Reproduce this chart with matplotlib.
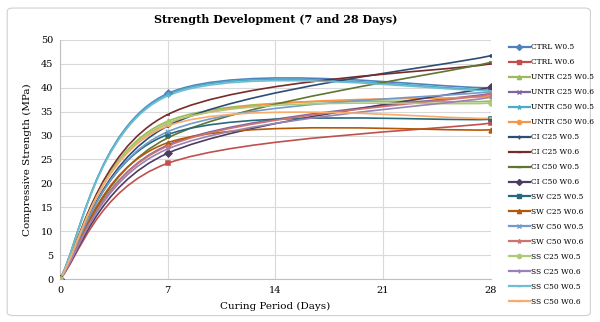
import matplotlib
matplotlib.use("Agg")
from matplotlib import pyplot as plt
from matplotlib.path import Path
from matplotlib.patches import PathPatch, FancyBboxPatch
from matplotlib.lines import Line2D
import numpy as np

days = [0, 7, 28]
names = ["CTRL W0.5", "CTRL W0.6", "UNTR C25 W0.5", "UNTR C25 W0.6",
         "UNTR C50 W0.5", "UNTR C50 W0.6", "CI C25 W0.5", "CI C25 W0.6",
         "CI C50 W0.5", "CI C50 W0.6", "SW C25 W0.5", "SW C25 W0.6",
         "SW C50 W0.5", "SW C50 W0.6", "SS C25 W0.5", "SS C25 W0.6",
         "SS C50 W0.5", "SS C50 W0.6"]
day7 = [38.8, 24.2, 33.0, 28.0, 38.6, 32.5, 32.0, 34.4, 29.5,
        26.3, 30.2, 28.5, 30.8, 27.8, 32.6, 27.2, 38.3, 32.0]
day28 = [40.0, 32.6, 37.2, 38.8, 39.6, 38.2, 46.7, 45.0, 45.3,
         40.1, 33.4, 31.2, 39.2, 38.6, 36.8, 38.0, 39.4, 33.6]

colors = ["#4F81BD", "#C0504D", "#9BBB59", "#8064A2", "#4BACC6", "#F79646",
          "#2C4D75", "#772C2A", "#5F7530", "#4D3B62", "#276A7C", "#B65708",
          "#729ACA", "#CD7371", "#AFC97A", "#9983B5", "#6FBDD1", "#F9AB6B"]
markers = ["D", "s", "^", "x", "*", "o", "+", "_", "_",
           "D", "s", "^", "x", "*", "o", "+", "_", "_"]

plt.rcParams['font.family'] = ['DejaVu Serif']

fig = plt.figure(figsize=(6, 3.22), dpi=100)
fig.patches.append(FancyBboxPatch((0.012, 0.02), 0.972, 0.955, boxstyle="round,pad=0,rounding_size=0.01",
                                  transform=fig.transFigure, fill=False, ec="#d0d0d0", lw=0.8))
ax = fig.add_axes([0.1, 0.1335, 0.718, 0.7425])


def smooth_path(xs, ys):
    # excel style bezier smoothing through the points
    pts = np.column_stack([xs, ys]).astype(float)
    verts = [pts[0]]
    codes = [Path.MOVETO]
    n = len(pts)
    for i in range(n - 1):
        p0 = pts[i - 1] if i > 0 else pts[i]
        p1 = pts[i]
        p2 = pts[i + 1]
        p3 = pts[i + 2] if i + 2 < n else pts[i + 1]
        c1 = p1 + (p2 - p0) / 6
        c2 = p2 - (p3 - p1) / 6
        verts += [c1, c2, p2]
        codes += [Path.CURVE4] * 3
    return Path(verts, codes)


for i, name in enumerate(names):
    ys = [0, day7[i], day28[i]]
    ax.add_patch(PathPatch(smooth_path(days, ys), fill=False, ec=colors[i], lw=1.2, zorder=3))
    ax.plot(days, ys, ls="none", marker=markers[i], color=colors[i], ms=3.5, mew=1.1, zorder=4)

ax.set_xlim(0, 28)
ax.set_ylim(0, 50)
ax.set_xticks([0, 7, 14, 21, 28])
ax.set_yticks(range(0, 51, 5))
ax.grid(True, color="#d9d9d9", lw=0.8)
ax.set_axisbelow(True)
for s in ["top", "right"]:
    ax.spines[s].set_visible(False)
for s in ["left", "bottom"]:
    ax.spines[s].set_color("#bfbfbf")
ax.tick_params(length=0, labelsize=7, pad=5)
ax.set_xlabel("Curing Period (Days)", fontsize=7.5, labelpad=5)
ax.set_ylabel("Compressive Strength (MPa)", fontsize=7.5, labelpad=6)
ax.set_title("Strength Development (7 and 28 Days)", fontsize=8, fontweight="bold", pad=12)

handles = [Line2D([0], [0], color=colors[i], marker=markers[i], ms=3, mew=1, lw=1.6)
           for i in range(len(names))]
fig.legend(handles, names, loc="upper left", bbox_to_anchor=(0.845, 0.87), frameon=False,
           fontsize=5.4, handlelength=2.8, handletextpad=0.2, labelspacing=0.93,
           borderaxespad=0, borderpad=0.2)

fig.savefig("out.png", dpi=100)
